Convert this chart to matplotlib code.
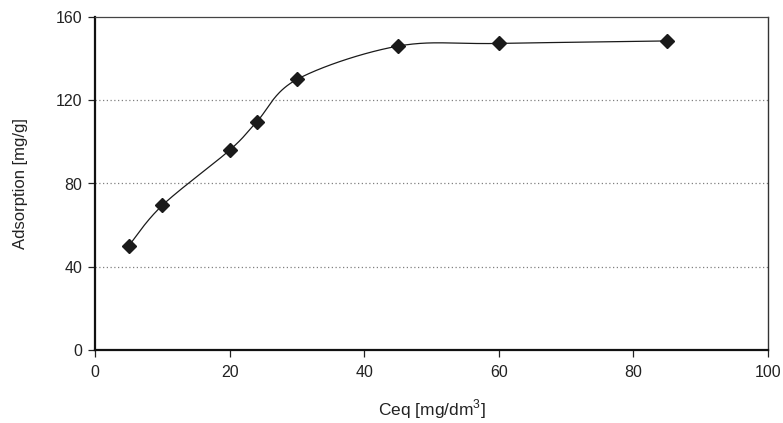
import numpy as np
import matplotlib
matplotlib.use("Agg")
import matplotlib.pyplot as plt

ceq = [5, 10, 20, 24, 30, 45, 60, 85]
adsorption = [50, 69.5, 96, 109.5, 130, 146, 147.3, 148.5]
xticks = [0, 20, 40, 60, 80, 100]
yticks = [0, 40, 80, 120, 160]

plt.rcParams['font.family'] = ['Liberation Sans', 'DejaVu Sans']
plt.rcParams['mathtext.fontset'] = 'custom'
plt.rcParams['mathtext.rm'] = 'Liberation Sans'


def smooth(xs, ys, n=40):
    # Catmull-Rom style smoothing (like spreadsheet "smoothed line")
    xs = np.asarray(xs, float)
    ys = np.asarray(ys, float)
    px = np.concatenate([[xs[0]], xs, [xs[-1]]])
    py = np.concatenate([[ys[0]], ys, [ys[-1]]])
    ox, oy = [], []
    t = np.linspace(0, 1, n)
    for i in range(1, len(px) - 2):
        p0 = np.array([px[i], py[i]])
        p3 = np.array([px[i + 1], py[i + 1]])
        c1 = p0 + (np.array([px[i + 1], py[i + 1]]) - np.array([px[i - 1], py[i - 1]])) / 6
        c2 = p3 - (np.array([px[i + 2], py[i + 2]]) - np.array([px[i], py[i]])) / 6
        b = ((1 - t) ** 3)[:, None] * p0 + (3 * (1 - t) ** 2 * t)[:, None] * c1 \
            + (3 * (1 - t) * t ** 2)[:, None] * c2 + (t ** 3)[:, None] * p3
        ox.extend(b[:, 0])
        oy.extend(b[:, 1])
    return np.array(ox), np.array(oy)


fig = plt.figure(figsize=(7.83, 4.23), dpi=100)
ax = fig.add_axes([95 / 783, 73 / 423, 673 / 783, 333 / 423])

sx, sy = smooth(ceq, adsorption)
ax.plot(sx, sy, color='#1a1a1a', lw=0.9, zorder=3)
ax.plot(ceq, adsorption, linestyle='none', marker='D', markersize=7.6,
        color='#1a1a1a', zorder=4)

ax.set_xlim(0, 100)
ax.set_ylim(0, 160)
ax.set_xticks(xticks)
ax.set_yticks(yticks)

for yv in yticks[1:-1]:
    ax.axhline(yv, color='#808080', lw=0.9, linestyle=(0, (1, 2)), zorder=1)

ax.spines['left'].set_linewidth(1.6)
ax.spines['bottom'].set_linewidth(1.6)
ax.spines['left'].set_color('#111111')
ax.spines['bottom'].set_color('#111111')
ax.spines['top'].set_linewidth(0.9)
ax.spines['top'].set_color('#444444')
ax.spines['right'].set_linewidth(1.0)
ax.spines['right'].set_color('#333333')

ax.tick_params(axis='both', direction='out', length=5, width=0.9,
               color='#222222', labelsize=11.5, labelcolor='#222222', pad=4)
ax.tick_params(axis='x', pad=6)

ax.set_xlabel('Ceq [mg/dm$^{3}$]', fontsize=12.5, color='#222222', labelpad=12)
ax.set_ylabel('Adsorption [mg/g]', fontsize=12, color='#222222', labelpad=20)

fig.savefig('out.png', dpi=100)
